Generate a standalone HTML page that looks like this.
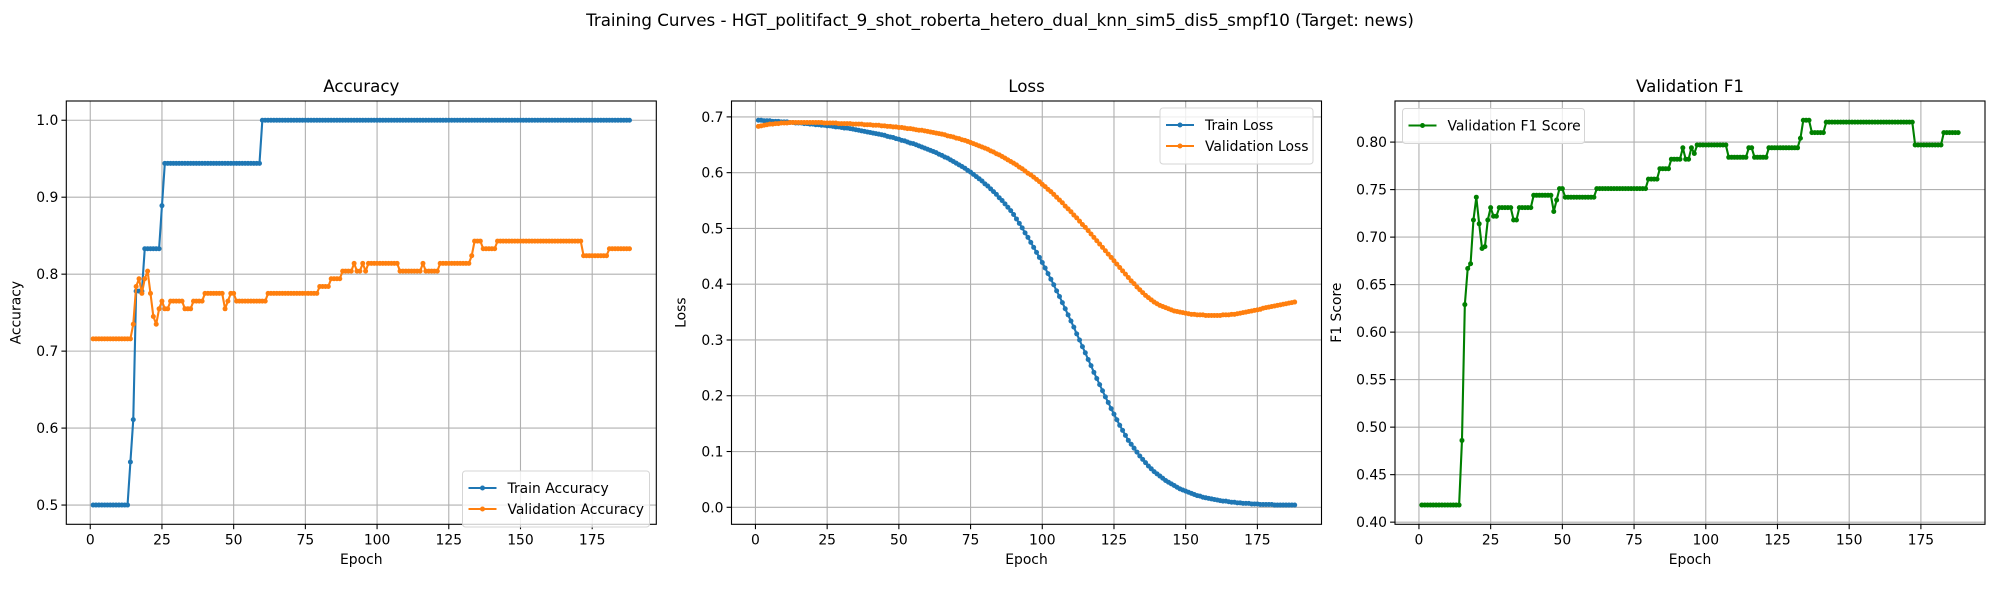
<!DOCTYPE html>
<html><head><meta charset="utf-8"><style>
html,body{margin:0;padding:0;background:#fff;}
svg{display:block;font-family:"DejaVu Sans","Liberation Sans",sans-serif;}
</style></head><body>
<svg id="fig" width="2000" height="600" viewBox="0 0 2000 600" xmlns="http://www.w3.org/2000/svg">
<rect width="2000" height="600" fill="#fff"/>
<text x="1000" y="26" text-anchor="middle" font-size="16.7">Training Curves - HGT_politifact_9_shot_roberta_hetero_dual_knn_sim5_dis5_smpf10 (Target: news)</text>
</svg>
<script>
// ---- data ----
const trainAccRuns = [[0.5,13],[0.556,1],[0.611,1],[0.778,3],[0.833,6],[0.889,1],[0.944,34],[1.0,129]];
const valAccRuns = [[0.716,14],[0.735,1],[0.784,1],[0.794,1],[0.775,1],[0.794,1],[0.804,1],[0.775,1],[0.745,1],[0.735,1],[0.755,1],[0.765,1],[0.755,2],[0.765,5],[0.755,3],[0.765,4],[0.775,7],[0.755,1],[0.765,1],[0.775,2],[0.765,11],[0.775,18],[0.784,4],[0.794,4],[0.804,4],[0.814,1],[0.804,2],[0.814,1],[0.804,1],[0.814,11],[0.804,8],[0.814,1],[0.804,5],[0.814,11],[0.824,1],[0.843,3],[0.833,5],[0.843,30],[0.824,9],[0.833,8]];
const trainLoss = [.694,.694,.693,.693,.693,.692,.692,.692,.691,.691,
.691,.690,.690,.689,.689,.689,.688,.688,.687,.687,
.686,.686,.685,.685,.684,.684,.683,.682,.682,.681,
.680,.680,.679,.678,.677,.676,.675,.674,.673,.672,
.671,.670,.669,.668,.667,.665,.664,.663,.661,.660,
.658,.657,.655,.653,.652,.650,.648,.646,.644,.642,
.640,.638,.636,.633,.631,.628,.626,.623,.620,.617,
.614,.611,.608,.604,.601,.597,.593,.589,.585,.580,
.576,.571,.566,.561,.555,.550,.544,.538,.532,.525,
.517,.509,.501,.492,.484,.475,.466,.457,.448,.439,
.429,.419,.409,.399,.388,.378,.367,.356,.345,.334,
.323,.311,.300,.288,.277,.265,.254,.242,.231,.220,
.209,.198,.188,.177,.167,.157,.147,.138,.129,.120,
.113,.106,.099,.092,.086,.080,.074,.069,.064,.060,
.056,.052,.048,.045,.042,.039,.036,.033,.031,.029,
.027,.025,.023,.021,.020,.018,.017,.016,.015,.014,
.013,.012,.011,.011,.010,.009,.009,.008,.008,.007,
.007,.007,.006,.006,.006,.005,.005,.005,.005,.005,
.004,.004,.004,.004,.004,.004,.004,.004];
const valLoss = [.683,.684,.685,.686,.687,.687,.688,.688,.689,.689,
.689,.690,.690,.690,.690,.690,.690,.690,.690,.690,
.690,.690,.690,.689,.689,.689,.689,.689,.688,.688,
.688,.688,.688,.687,.687,.687,.687,.686,.686,.686,
.685,.685,.685,.684,.684,.683,.683,.682,.682,.681,
.681,.680,.679,.679,.678,.677,.676,.676,.675,.674,
.673,.672,.671,.670,.669,.668,.666,.665,.664,.662,
.661,.659,.658,.656,.654,.652,.650,.648,.646,.644,
.642,.639,.637,.634,.632,.629,.626,.623,.620,.617,
.614,.610,.607,.603,.599,.596,.592,.588,.584,.579,
.575,.570,.566,.561,.556,.551,.546,.540,.535,.530,
.524,.519,.513,.507,.502,.496,.490,.484,.478,.472,
.466,.460,.454,.448,.442,.436,.430,.424,.418,.412,
.406,.401,.395,.390,.385,.380,.376,.372,.368,.365,
.362,.360,.358,.356,.354,.352,.351,.350,.349,.348,
.347,.346,.346,.345,.345,.345,.344,.344,.344,.344,
.344,.344,.345,.345,.345,.346,.346,.347,.348,.349,
.350,.351,.352,.353,.354,.355,.357,.358,.359,.360,
.361,.362,.363,.364,.365,.366,.367,.368];
const f1Runs = [[0.418,14],[0.486,1],[0.629,1],[0.667,1],[0.672,1],[0.718,1],[0.742,1],[0.714,1],[0.688,1],[0.690,1],[0.718,1],[0.731,1],[0.722,2],[0.731,5],[0.718,2],[0.731,5],[0.744,7],[0.727,1],[0.739,1],[0.751,2],[0.742,11],[0.751,18],[0.761,4],[0.772,4],[0.782,4],[0.794,1],[0.782,2],[0.794,1],[0.788,1],[0.797,11],[0.784,7],[0.794,2],[0.784,5],[0.794,11],[0.804,1],[0.823,3],[0.810,5],[0.821,31],[0.797,10],[0.810,6]];
const xTicks = [0,25,50,75,100,125,150,175];
const accTicks = [0.5,0.6,0.7,0.8,0.9,1.0];
const lossTicks = [0.0,0.1,0.2,0.3,0.4,0.5,0.6,0.7];
const f1Ticks = [0.40,0.45,0.50,0.55,0.60,0.65,0.70,0.75,0.80];

function expand(runs){const o=[];runs.forEach(r=>{for(let i=0;i<r[1];i++)o.push(r[0]);});return o;}
const trainAcc = expand(trainAccRuns), valAcc = expand(valAccRuns), f1 = expand(f1Runs);

const NS='http://www.w3.org/2000/svg';
const svg=document.getElementById('fig');
function mk(tag,attrs,parent){const e=document.createElementNS(NS,tag);for(const k in attrs)e.setAttribute(k,attrs[k]);(parent||svg).appendChild(e);return e;}

function panel(opt){
  const L=opt.left,T=101,W=590,H=423.3;
  const g=mk('g',{});
  
  
  const allY=[].concat(...opt.series.map(s=>s.data));
  const n=Math.max(...opt.series.map(s=>s.data.length));
  const xmin=1-(n-1)*0.05, xmax=n+(n-1)*0.05;
  const ymn=Math.min(...allY), ymx=Math.max(...allY), yr=ymx-ymn;
  const ymin=ymn-yr*0.05, ymax=ymx+yr*0.05;
  const sx=v=>L+(v-xmin)/(xmax-xmin)*W;
  const sy=v=>T+H-(v-ymin)/(ymax-ymin)*H;
  xTicks.forEach(t=>{const x=sx(t);
    const gl=mk('line',{x1:x,x2:x,y1:T,y2:T+H,stroke:'#b0b0b0','stroke-width':1.1},g);
    
    mk('line',{x1:x,x2:x,y1:T+H,y2:T+H+4.9,stroke:'#000','stroke-width':1.1},g);
    const tl=mk('text',{x:x,y:T+H+20,'text-anchor':'middle','font-size':13.9},g);tl.textContent=t;
    
  });
  opt.ticks.forEach(t=>{const y=sy(t);
    const gl=mk('line',{x1:L,x2:L+W,y1:y,y2:y,stroke:'#b0b0b0','stroke-width':1.1},g);
    
    mk('line',{x1:L-4.9,x2:L,y1:y,y2:y,stroke:'#000','stroke-width':1.1},g);
    const tl=mk('text',{x:L-8,y:y+5,'text-anchor':'end','font-size':13.9},g);tl.textContent=t.toFixed(opt.dec);
    
  });
  opt.series.forEach(s=>{
    const pts=s.data.map((v,i)=>sx(i+1).toFixed(2)+','+sy(v).toFixed(2)).join(' ');
    const pl=mk('polyline',{points:pts,fill:'none',stroke:s.color,'stroke-width':2.1,'stroke-linejoin':'round'},g);
    
    s.data.forEach((v,i)=>{
      const c=mk('circle',{cx:sx(i+1),cy:sy(v),r:2.5,fill:s.color},g);
      
    });
  });
  const fr=mk('rect',{x:L,y:T,width:W,height:H,fill:'none',stroke:'#000','stroke-width':1.1},g);
  
  const ti=mk('text',{x:L+W/2,y:T-9,'text-anchor':'middle','font-size':16.7},g);ti.textContent=opt.title;
  
  const xl=mk('text',{x:L+W/2,y:564,'text-anchor':'middle','font-size':13.9},g);xl.textContent='Epoch';
  
  const yx=L-opt.ylOff;
  const yl=mk('text',{x:yx,y:T+H/2,'text-anchor':'middle','font-size':13.9,transform:`rotate(-90 ${yx} ${T+H/2})`},g);yl.textContent=opt.ylabel;
  
  const lg=opt.legend, lgG=mk('g',{},g);
  
  mk('rect',{x:lg.x,y:lg.y,width:lg.w,height:14+opt.series.length*21,rx:3,fill:'#fff','fill-opacity':0.8,stroke:'#d5d5d5','stroke-width':1},lgG);
  opt.series.forEach((s,i)=>{const yy=lg.y+17+i*21;
    mk('line',{x1:lg.x+6,x2:lg.x+34,y1:yy,y2:yy,stroke:s.color,'stroke-width':2.1},lgG);
    mk('circle',{cx:lg.x+20,cy:yy,r:2.5,fill:s.color},lgG);
    const t=mk('text',{x:lg.x+45,y:yy+5,'font-size':13.9},lgG);t.textContent=s.label;
    
  });
}
panel({name:'accuracy',left:66.3,title:'Accuracy',ylabel:'Accuracy',ticks:accTicks,dec:1,ylOff:46,
  series:[{id:'train-accuracy',data:trainAcc,color:'#1f77b4',label:'Train Accuracy'},{id:'validation-accuracy',data:valAcc,color:'#ff7f0e',label:'Validation Accuracy'}],
  legend:{x:462.5,y:471,w:187}});
panel({name:'loss',left:731.5,title:'Loss',ylabel:'Loss',ticks:lossTicks,dec:1,ylOff:46,
  series:[{id:'train-loss',data:trainLoss,color:'#1f77b4',label:'Train Loss'},{id:'validation-loss',data:valLoss,color:'#ff7f0e',label:'Validation Loss'}],
  legend:{x:1160,y:108,w:153}});
panel({name:'f1',left:1395,title:'Validation F1',ylabel:'F1 Score',ticks:f1Ticks,dec:2,ylOff:54,
  series:[{id:'validation-f1',data:f1,color:'#008000',label:'Validation F1 Score'}],
  legend:{x:1402.5,y:108.5,w:182}});
</script>
</body></html>
